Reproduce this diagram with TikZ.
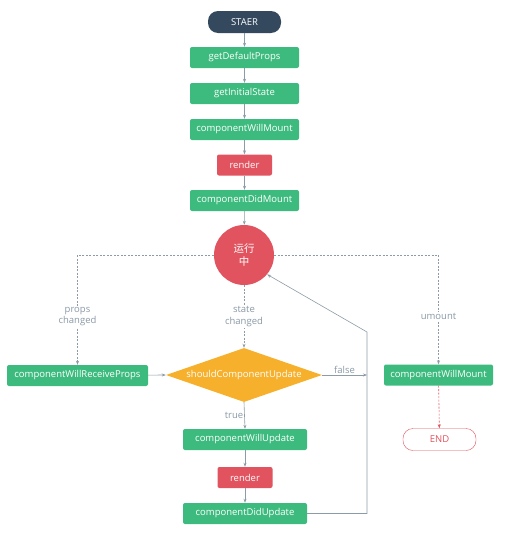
\documentclass[tikz,border=0pt]{standalone}
\usepackage{fontspec}
\setmainfont{Open Sans}
\newfontfamily\cjk{Noto Sans CJK SC}
\usetikzlibrary{arrows.meta, shapes.geometric, positioning}
\definecolor{stepgreen}{HTML}{3DBB7E}
\definecolor{stepred}{HTML}{E1535F}
\definecolor{stepnavy}{HTML}{34495E}
\definecolor{steporange}{HTML}{F6B02C}
\definecolor{linegray}{HTML}{8C9BA6}
\definecolor{labelgray}{HTML}{8A99A6}

\begin{document}
\begin{tikzpicture}[x=1pt, y=-1pt, font=\fontsize{9.5}{11.5}\selectfont,
    greenbox/.style={fill=stepgreen, text=white, rounded corners=2pt,
        minimum width=109pt, minimum height=21pt, inner sep=0pt},
    redbox/.style={greenbox, fill=stepred, minimum width=55pt},
    capsule/.style={rounded corners=10pt, minimum width=73pt,
        minimum height=22pt, inner sep=0pt},
    flow/.style={draw=linegray, line width=0.6pt, -{Stealth[length=4pt,width=3pt]}},
    dashflow/.style={flow, dash pattern=on 2pt off 1.5pt},
    lbl/.style={text=labelgray, fill=white, align=center, inner sep=1pt}]
\useasboundingbox (0,0) rectangle (519,533);

% mounting
\node[capsule, fill=stepnavy, text=white] (start) at (244.5,22) {STAER};
\node[greenbox] (defprops) at (244.5,57.5) {getDefaultProps};
\node[greenbox] (initstate) at (244.5,93.5) {getInitialState};
\node[greenbox] (willmount) at (244.5,129.5) {componentWillMount};
\node[redbox] (render) at (244.5,165) {render};
\node[greenbox] (didmount) at (244.5,200.5) {componentDidMount};
\node[circle, fill=stepred, text=white, minimum size=60pt, inner sep=0pt,
    align=center, font=\cjk\fontsize{10.5}{13}\selectfont] (running) at (244,255) {运行\\中};

% updating
\node[greenbox, minimum width=141pt] (receive) at (77.5,375.5) {componentWillReceiveProps};
\node[diamond, fill=steporange, minimum width=156pt, minimum height=54pt,
    inner sep=0pt] (should) at (244,375) {};
\node[text=white] at (should) {shouldComponentUpdate};
\node[greenbox, minimum width=124pt] (willupdate) at (245,439.5) {componentWillUpdate};
\node[redbox] (render2) at (245,477.5) {render};
\node[greenbox, minimum width=124pt] (didupdate) at (245,513.5) {componentDidUpdate};
\coordinate (back) at (367,332);

% unmounting
\node[greenbox] (unmount) at (438.5,375) {componentWillMount};
\node[capsule, draw=stepred, text=stepred, fill=white] (end) at (439.5,439.5) {END};

\draw[flow] (start) -- (defprops);
\draw[flow] (defprops) -- (initstate);
\draw[flow] (initstate) -- (willmount);
\draw[flow] (willmount) -- (render);
\draw[flow] (render) -- (didmount);
\draw[flow] (didmount) -- (running);

\draw[dashflow] (running.west) -| node[lbl, pos=0.78] {props\\changed} (receive.north);
\draw[dashflow] (running.south) -- node[lbl, pos=0.5] {state\\changed} (should.north);
\draw[dashflow] (running.east) -| node[lbl, pos=0.78] {umount} (unmount.north);

\draw[flow] (receive) -- (should.west);
\draw[flow] (should.east) -- node[lbl, above, fill=none] {false} (should.east -| back);
\draw[flow] (should.south) -- node[lbl, left, fill=none] {true} (willupdate.north);
\draw[flow] (willupdate) -- (render2);
\draw[flow] (render2) -- (didupdate);
\draw[flow] (didupdate.east) -| (back) -- (running.-40);

\draw[dashflow, draw=stepred] (unmount) -- (end);
\end{tikzpicture}
\end{document}
